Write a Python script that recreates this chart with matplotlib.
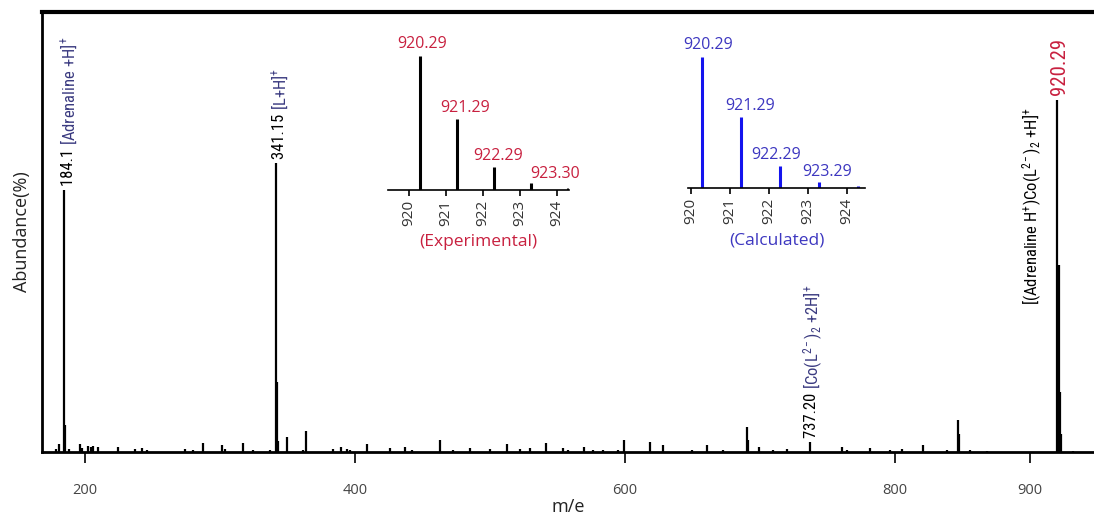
import matplotlib.pyplot as plt

# main spectrum: m/e and abundance (%)
mz = [178.5, 180.7, 184.1, 185.1, 188.1, 196.3, 197.8, 202.2, 204.4, 205.9, 209.6,
      224.4, 237.0, 242.2, 245.9, 274.1, 280.0, 287.4, 301.5, 303.7, 317.0, 324.4,
      337.0, 341.15, 342.15, 343.15, 349.6, 361.5, 363.7, 383.7, 389.6, 394.1, 396.3,
      408.9, 425.9, 437.0, 442.2, 463.0, 472.6, 485.2, 500.0, 512.6, 522.2, 529.6,
      541.5, 554.1, 557.8, 569.6, 576.3, 583.7, 594.8, 599.3, 618.5, 628.1, 649.6,
      660.7, 672.6, 690.4, 691.4, 699.3, 709.6, 720.0, 737.2, 760.7, 764.4, 781.5,
      796.3, 805.2, 820.7, 838.5, 846.7, 847.7, 855.6, 868.1, 920.29, 921.29,
      922.29, 923.29, 931.9]
abundance = [0.75, 1.8, 59.5, 6.1, 0.7, 1.8, 0.9, 1.4, 1.1, 1.4, 1.1,
             1.1, 0.7, 0.9, 0.5, 0.7, 0.5, 2.0, 1.6, 0.7, 2.0, 0.5,
             0.5, 65.7, 16.0, 2.5, 3.4, 0.5, 4.8, 0.7, 1.1, 0.7, 0.5,
             1.8, 0.9, 1.1, 0.5, 2.7, 0.5, 0.9, 0.7, 1.8, 0.7, 0.9,
             2.0, 0.9, 0.5, 1.1, 0.5, 0.5, 0.5, 2.7, 2.3, 1.6, 0.5,
             1.6, 0.5, 5.7, 2.7, 1.1, 0.5, 0.7, 2.3, 1.1, 0.5, 0.9,
             0.5, 0.7, 1.5, 0.5, 7.3, 4.1, 0.5, 0.3, 80.0, 42.5,
             13.6, 4.0, 0.3]

xticks = [200, 400, 600, 800, 900]

# isotope pattern insets
exp_mz = [920.29, 921.29, 922.29, 923.30, 924.30]
exp_rel = [1.0, 0.53, 0.17, 0.05, 0.012]
exp_labels = ["920.29", "921.29", "922.29", "923.30"]
calc_mz = [920.29, 921.29, 922.29, 923.29, 924.29]
calc_rel = [1.0, 0.54, 0.17, 0.046, 0.012]
calc_labels = ["920.29", "921.29", "922.29", "923.29"]
inset_ticks = [920, 921, 922, 923, 924]

red = "#c8203f"
navy = "#3a3a80"
calc_txt = "#3d37c0"
calc_line = "#1414ee"
narrow = ["Roboto Condensed", "Open Sans Condensed", "Liberation Sans Narrow", "Lato"]
plt.rcParams["font.family"] = ["Open Sans", "DejaVu Sans"]
plt.rcParams["mathtext.fontset"] = "custom"
plt.rcParams["mathtext.rm"] = "Roboto Condensed"
plt.rcParams["mathtext.it"] = "Roboto Condensed"
plt.rcParams["mathtext.bf"] = "Roboto Condensed"

fig = plt.figure(figsize=(10.94, 5.14), dpi=100)
ax = fig.add_axes([0.0384, 0.1206, 0.9616, 0.8561])
ax.vlines(mz, 0, abundance, color="black", lw=1.6)
ax.set_xlim(168.1, 947.4)
ax.set_ylim(0, 100)
ax.set_yticks([])
ax.set_xticks(xticks)
ax.tick_params(axis="x", direction="out", length=8, width=1.2, pad=14,
               labelsize=10.5, labelcolor="#444444")
ax.spines["right"].set_visible(False)
ax.spines["top"].set_linewidth(3)
ax.spines["left"].set_linewidth(2)
ax.spines["bottom"].set_linewidth(2)
ax.set_xlabel("m/e", fontsize=13, labelpad=0, color="#222222")
ax.set_ylabel("Abundance(%)", fontsize=13, labelpad=8, color="#222222")

# two-colour rotated peak labels
peak_labels = [
    (184.1, 59.5, "184.1 ", "[Adrenaline +H]$^{+}$", navy, 3),
    (341.15, 65.7, "341.15 ", "[L+H]$^{+}$", navy, 2),
    (737.2, 2.3, "737.20 ", "[Co(L$^{2-}$)$_{2}$ +2H]$^{+}$", navy, 0),
]
fig.canvas.draw()
renderer = fig.canvas.get_renderer()
for x, h, num, rest, col, dx in peak_labels:
    t = ax.annotate(num, (x, h), xytext=(dx, 4), textcoords="offset pixels",
                    rotation=90, rotation_mode="anchor", ha="left",
                    va="center_baseline", fontsize=12, family=narrow,
                    fontstretch="condensed", color="black")
    ext = t.get_window_extent(renderer)
    ax.annotate(rest, (x, h), xytext=(dx, 4 + ext.height), textcoords="offset pixels",
                rotation=90, rotation_mode="anchor", ha="left",
                va="center_baseline", fontsize=12, family=narrow,
                fontstretch="condensed", color=col)

ax.annotate("920.29", (920.29, 80.0), xytext=(0, 5), textcoords="offset pixels",
            rotation=90, rotation_mode="anchor", ha="left", va="center_baseline",
            fontsize=15, family=narrow, fontstretch="condensed", color=red)
ax.text(901.5, 55.9, "[(Adrenaline H$^{+}$)Co(L$^{2-}$)$_{2}$ +H]$^{+}$",
        rotation=90, ha="center", va="center", fontsize=12, family=narrow,
        fontstretch="condensed", color="black")


def inset(rect, xs, ys, labels, xlim, ymax, lcol, tcol, offsets, title):
    a = fig.add_axes(rect)
    a.vlines(xs, 0, ys, color=lcol, lw=2.2)
    a.set_xlim(*xlim)
    a.set_ylim(0, ymax)
    for s in ["top", "right", "left"]:
        a.spines[s].set_visible(False)
    a.spines["bottom"].set_linewidth(1.2)
    a.set_yticks([])
    a.set_xticks(inset_ticks)
    a.set_xticklabels([str(t) for t in inset_ticks], rotation=90)
    a.tick_params(axis="x", direction="out", length=4, width=1.2, pad=3,
                  labelsize=11, labelcolor="#333333")
    a.patch.set_alpha(0)
    for x, y, lab, (dx, dy) in zip(xs, ys, labels, offsets):
        a.annotate(lab, (x, y), xytext=(dx, dy), textcoords="offset pixels",
                   ha="center", va="center", fontsize=11.5, color=tcol)
    a.set_xlabel(title, fontsize=12.5, color=tcol, labelpad=6)
    return a


inset([388 / 1094, 1 - 190 / 514, 181 / 1094, 160 / 514], exp_mz, exp_rel, exp_labels,
      (919.43, 924.32), 160 / 134, "black", red,
      [(2, 12), (8, 11), (4, 11), (24, 9)], "(Experimental)")
inset([688 / 1094, 1 - 188 / 514, 177 / 1094, 158 / 514], calc_mz, calc_rel, calc_labels,
      (919.92, 924.46), 158 / 131, calc_line, calc_txt,
      [(6, 12), (9, 11), (-4, 11), (8, 10)], "(Calculated)")

fig.savefig("out.png", dpi=100)
